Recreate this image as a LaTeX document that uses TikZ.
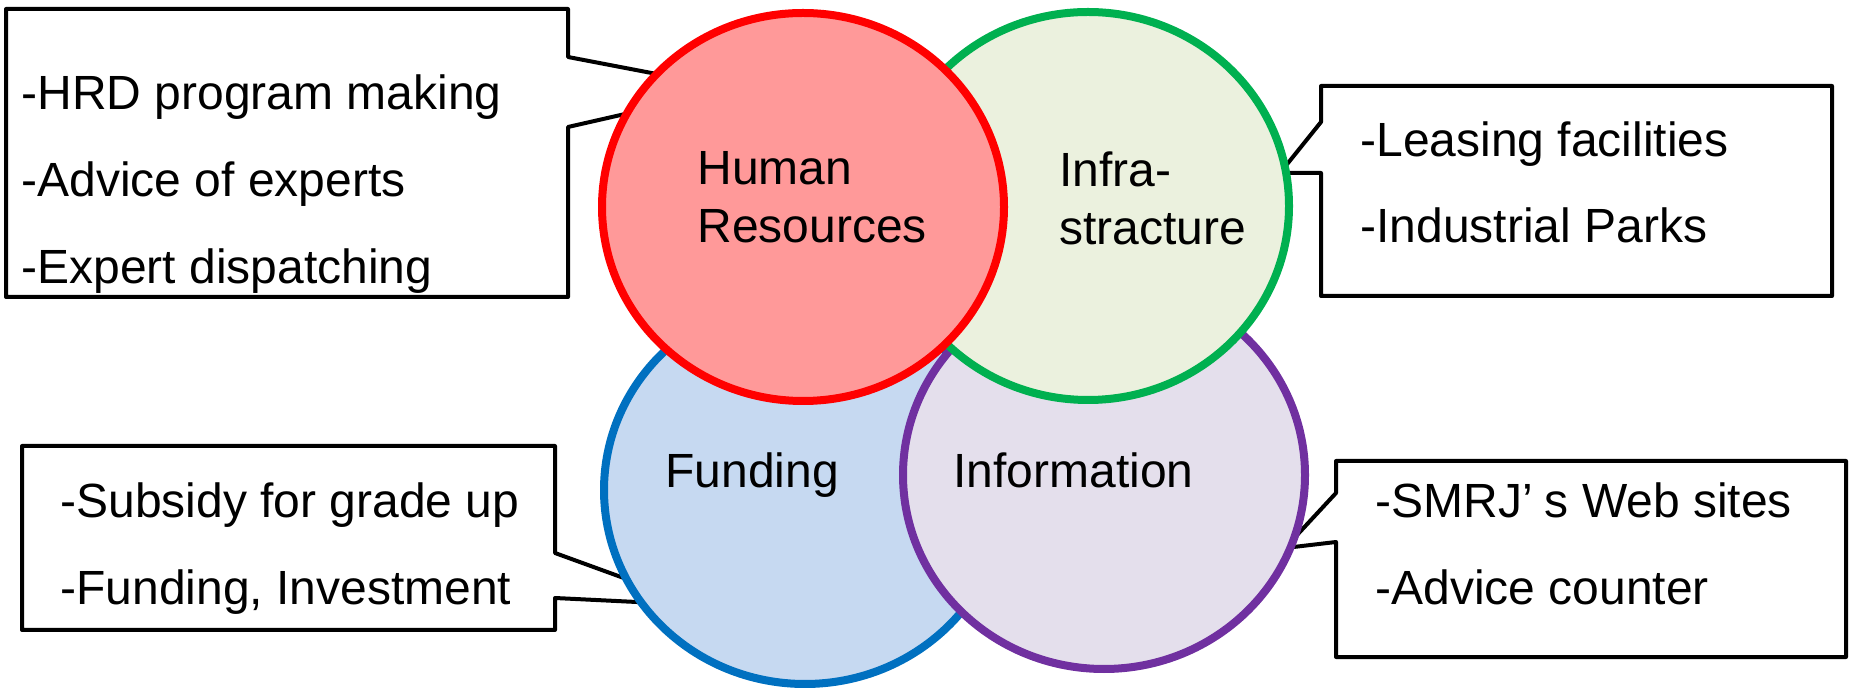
\documentclass[tikz,border=0pt]{standalone}
\usepackage{fontspec}
\setmainfont{Liberation Sans}
\usetikzlibrary{shapes.geometric}
\definecolor{hrdraw}{HTML}{FF0000}
\definecolor{hrfill}{HTML}{FF9999}
\definecolor{infdraw}{HTML}{00B050}
\definecolor{inffill}{HTML}{EBF1DE}
\definecolor{funddraw}{HTML}{0070C0}
\definecolor{fundfill}{HTML}{C6D9F1}
\definecolor{infodraw}{HTML}{7030A0}
\definecolor{infofill}{HTML}{E4DFEC}
\begin{document}
\begin{tikzpicture}[x=0.5pt,y=-0.5pt,
  bubble/.style={draw=black,line width=2pt,fill=white,line join=round},
  txt/.style={anchor=base west,inner sep=0pt,font=\fontsize{24}{28}\selectfont},
  petal/.style={ellipse,inner sep=0pt,minimum width=201pt,minimum height=194pt,line width=4pt}]
\useasboundingbox (0,0) rectangle (1851,688);

% callout boxes (pointers run under the ellipses)
\coordinate (tipHR) at (735,89);
\coordinate (tipIN) at (1280,173);
\coordinate (tipFU) at (698,605);
\coordinate (tipIF) at (1285,548);
\draw[bubble] (6,9) -- (568,9) -- (568,57) -- (tipHR) -- (568,127) -- (568,297) -- (6,297) -- cycle;
\draw[bubble] (1321,86) -- (1832,86) -- (1832,296) -- (1321,296) -- (1321,173) -- (tipIN) -- (1321,122) -- cycle;
\draw[bubble] (22,446) -- (555,446) -- (555,553) -- (tipFU) -- (555,598) -- (555,630) -- (22,630) -- cycle;
\draw[bubble] (1336,461) -- (1846,461) -- (1846,657) -- (1336,657) -- (1336,542) -- (tipIF) -- (1336,493) -- cycle;

% the four ellipses, back to front
\node[petal,draw=funddraw,fill=fundfill] (fund) at (805,490) {};
\node[petal,draw=infodraw,fill=infofill] (info) at (1104,475) {};
\node[petal,draw=infdraw,fill=inffill] (infra) at (1088,206) {};
\node[petal,draw=hrdraw,fill=hrfill] (hr) at (803,207) {};

% ellipse titles
\node[txt] (hrA) at (697,185) {Human};
\node[txt] (hrB) at (697,243) {Resources};
\node[txt] (inA) at (1059,187) {Infra-};
\node[txt] (inB) at (1059,245) {stracture};
\node[txt] (fuA) at (665,488) {Funding};
\node[txt] (ifA) at (953,488) {Information};

% callout texts
\node[txt] (hr1) at (21,110) {-HRD program making};
\node[txt] (hr2) at (21,197) {-Advice of experts};
\node[txt] (hr3) at (21,284) {-Expert dispatching};
\node[txt] (in1) at (1360,157) {-Leasing facilities};
\node[txt] (in2) at (1360,243) {-Industrial Parks};
\node[txt] (fu1) at (60,518) {-Subsidy for grade up};
\node[txt] (fu2) at (60,605) {-Funding, Investment};
\node[txt] (if1) at (1375,518) {-SMRJ’\kern0.25em s Web sites};
\node[txt] (if2) at (1375,605) {-Advice counter};
\end{tikzpicture}
\end{document}
